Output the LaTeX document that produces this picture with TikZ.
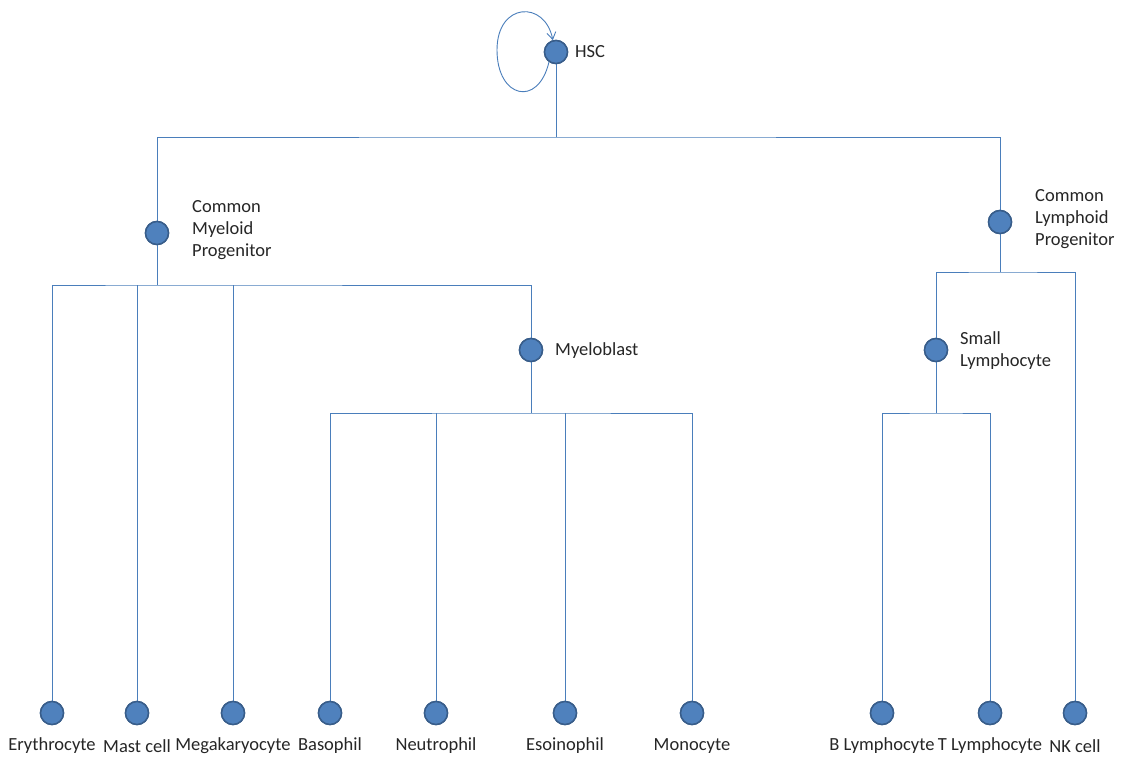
\documentclass[tikz,border=0pt]{standalone}
\usepackage{fontspec}
\setmainfont{Carlito}
\usetikzlibrary{arrows.meta}
\definecolor{nodefill}{RGB}{79,129,189}
\definecolor{nodeline}{RGB}{56,93,138}
\definecolor{linkc}{RGB}{74,126,187}
\begin{document}
\begin{tikzpicture}[x=1pt,y=-1pt,
  cell/.style={circle,fill=nodefill,draw=nodeline,line width=1.5pt,minimum size=23pt,inner sep=0pt},
  link/.style={draw=linkc,line width=0.9pt},
  lbl/.style={font=\fontsize{18.5}{22}\selectfont,text=black!85,inner sep=0pt},
  side/.style={lbl,anchor=west,align=left},
]
\useasboundingbox[fill=white] (0,0) rectangle (1126,760);
% junction coordinates
\coordinate (j0) at (556,137);
\coordinate (j1) at (157,285);
\coordinate (j2) at (531,413);
\coordinate (j3) at (1000,272);
\coordinate (j4) at (936,413);
% inner nodes
\node[cell] (hsc) at (556,52) {};
\node[cell] (cmp) at (157,233) {};
\node[cell] (clp) at (1000,222) {};
\node[cell] (myb) at (531,350) {};
\node[cell] (sly) at (936,350) {};
% leaves
\foreach \n/\x in {ery/52,mast/137,mega/233,baso/330,neut/436,eos/565,mono/692,bly/882,tly/990,nk/1075}
  \node[cell] (\n) at (\x,713) {};
% connectors
\draw[link] (hsc) -- (j0);
\draw[link] (cmp) |- (j0) -| (clp);
\draw[link] (cmp) -- (j1);
\draw[link] (ery) |- (j1) -| (myb);
\draw[link] (mast) -- (mast |- j1);
\draw[link] (mega) -- (mega |- j1);
\draw[link] (myb) -- (j2);
\draw[link] (baso) |- (j2) -| (mono);
\draw[link] (neut) -- (neut |- j2);
\draw[link] (eos) -- (eos |- j2);
\draw[link] (clp) -- (j3);
\draw[link] (sly) |- (j3) -| (nk);
\draw[link] (sly) -- (j4);
\draw[link] (bly) |- (j4) -| (tly);
% self loop
\draw[link,-{Straight Barb[length=7pt,width=9pt]}] (hsc.235) .. controls (538,108) and (497,98) .. (497,50)
  .. controls (497,2) and (545,0) .. (hsc.105);
% redraw nodes on top
\foreach \n in {hsc,cmp,clp,myb,sly,ery,mast,mega,baso,neut,eos,mono,bly,tly,nk}
  \node[cell] at (\n) {};
% labels
\node[side] at (575,52) {HSC};
\node[side] at (192,230) {Common\\Myeloid\\Progenitor};
\node[side] at (1035,219) {Common\\Lymphoid\\Progenitor};
\node[side] at (555,351) {Myeloblast};
\node[side] at (960,351) {Small\\Lymphocyte};
\foreach \n/\t in {ery/Erythrocyte,mast/Mast cell,mega/Megakaryocyte,baso/Basophil,neut/Neutrophil,eos/Esoinophil,mono/Monocyte,bly/B Lymphocyte,tly/T Lymphocyte,nk/NK cell}
  \node[lbl] at ([yshift=-33pt]\n) {\t};
\end{tikzpicture}
\end{document}
